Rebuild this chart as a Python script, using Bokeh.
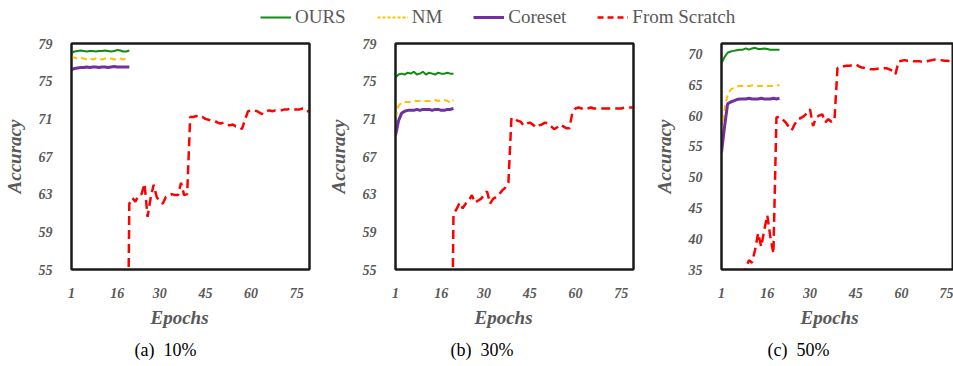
from bokeh.plotting import figure
from bokeh.models import Legend, LegendItem, Title, FixedTicker, Range1d, LinearAxis
from bokeh.layouts import column, row
from bokeh.embed import file_html
from bokeh.resources import INLINE

FONT = "Liberation Serif"
GRAY = "#595959"
C_OURS = "#138a13"
C_NM = "#FFC000"
C_CORE = "#7030A0"
C_SCR = "#FF0000"
C_FRAME = "#1a1a1a"

x_ticks = [1, 16, 30, 45, 60, 75]
y_ticks_ab = [55, 59, 63, 67, 71, 75, 79]
y_ticks_c = [35, 40, 45, 50, 55, 60, 65, 70]

epochs_short = list(range(1, 21))

# (a) 10%
a_ours = [78.0, 78.15, 78.2, 78.25, 78.2, 78.15, 78.2, 78.2, 78.15, 78.2, 78.2, 78.25, 78.2, 78.15, 78.2, 78.3, 78.25, 78.15, 78.15, 78.25]
a_nm = [77.6, 77.5, 77.4, 77.5, 77.4, 77.3, 77.4, 77.3, 77.4, 77.4, 77.3, 77.4, 77.4, 77.4, 77.3, 77.4, 77.4, 77.3, 77.4, 77.4]
a_core = [76.2, 76.35, 76.4, 76.45, 76.45, 76.5, 76.45, 76.5, 76.5, 76.45, 76.5, 76.5, 76.45, 76.5, 76.55, 76.5, 76.5, 76.5, 76.5, 76.5]
a_scr_ep = list(range(19, 80))
a_scr = [30.0,
         62.0, 62.6, 62.2, 62.9, 63.0, 64.1, 60.6, 62.6, 64.0, 62.7,
         62.2, 62.0, 62.7, 62.8, 63.0, 62.9, 62.9, 64.2, 62.9, 63.0,
         71.2, 71.2, 71.3, 71.1, 71.2, 71.0, 70.9, 70.8, 70.8, 70.6,
         70.5, 70.6, 70.4, 70.3, 70.4, 70.2, 70.2, 69.9, 70.9, 71.8,
         71.9, 71.9, 71.8, 71.6, 71.5, 71.8, 71.9, 71.8, 71.9, 71.9,
         71.9, 72.0, 72.0, 72.1, 72.0, 72.0, 72.0, 72.1, 72.1, 71.7]

# (b) 30%
b_ours = [75.4, 75.7, 75.8, 75.7, 75.9, 75.8, 76.0, 75.7, 75.8, 76.0, 75.7, 75.9, 75.8, 75.7, 75.9, 75.8, 75.8, 75.9, 75.8, 75.8]
b_nm = [71.1, 72.4, 72.7, 72.8, 72.8, 72.8, 72.9, 72.9, 72.9, 72.9, 72.9, 72.9, 72.9, 73.0, 72.9, 73.0, 73.0, 72.9, 72.7, 73.0]
b_core = [69.2, 70.8, 71.6, 71.8, 71.9, 71.9, 71.9, 72.0, 71.9, 72.0, 72.0, 72.0, 71.9, 72.0, 72.0, 71.9, 71.9, 72.0, 72.0, 72.1]
b_scr_ep = list(range(19, 80))
b_scr = [30.0,
         60.9, 61.4, 62.1, 61.5, 62.0, 62.3, 62.9, 62.1, 62.3, 62.5,
         62.9, 63.3, 62.0, 62.5, 62.7, 63.0, 63.4, 63.7, 64.2, 71.1,
         71.0, 70.8, 70.7, 70.3, 70.5, 70.6, 70.4, 70.1, 70.3, 70.4,
         70.6, 70.5, 70.2, 69.9, 70.1, 70.4, 70.2, 70.0, 70.0, 71.7,
         72.1, 72.2, 72.1, 72.0, 72.1, 72.2, 72.1, 72.1, 72.1, 72.1,
         72.1, 72.1, 72.1, 72.1, 72.1, 72.1, 72.2, 72.2, 72.2, 72.2]

# (c) 50%
c_ours = [68.5, 69.5, 70.2, 70.4, 70.5, 70.6, 70.7, 70.7, 70.9, 70.7, 70.9, 71.0, 70.8, 70.8, 70.9, 70.8, 70.7, 70.7, 70.7, 70.7]
c_nm = [57.5, 61.0, 63.4, 64.2, 64.5, 64.7, 64.8, 64.8, 64.8, 64.8, 64.9, 64.9, 64.8, 64.8, 64.9, 64.8, 64.8, 64.8, 64.9, 64.9]
c_core = [54.0, 58.2, 61.9, 62.2, 62.4, 62.6, 62.7, 62.7, 62.7, 62.8, 62.7, 62.7, 62.7, 62.8, 62.7, 62.7, 62.7, 62.8, 62.7, 62.8]
c_scr_ep = list(range(8, 78))
c_scr = [33.8, 35.3, 36.5, 36.1, 38.2, 40.9, 38.7, 41.4, 43.8, 40.3,
         37.6, 59.7, 59.8, 59.4, 58.9, 58.2, 57.6, 58.6, 59.4, 59.6,
         59.9, 60.4, 61.0, 58.3, 59.7, 60.0, 60.2, 58.9, 59.4, 59.0,
         59.2, 67.7, 68.0, 68.0, 68.1, 68.1, 68.2, 68.3, 68.0, 67.8,
         67.7, 67.6, 67.5, 67.5, 67.6, 67.6, 67.7, 67.7, 67.5, 67.3,
         66.7, 68.8, 68.9, 69.0, 68.9, 68.9, 68.8, 68.8, 68.8, 68.7,
         68.8, 68.9, 69.0, 69.1, 69.1, 69.0, 68.9, 68.9, 68.8, 68.7]

series_names = ["OURS", "NM", "Coreset", "From Scratch"]

LEG_H = 30
PANEL_H = 366 - LEG_H


def frame_axis():
    return LinearAxis(ticker=FixedTicker(ticks=[]), major_tick_line_color=None,
                      minor_tick_line_color=None, major_label_text_font_size="0px",
                      major_label_standoff=0, axis_line_color=C_FRAME, axis_line_width=2)


def make_panel(width, left, right, xmax, yr, yticks, ours, nm, core, scr_ep, scr,
               epochs_offset, caption, caption_offset, right_edge=True):
    p = figure(width=width, height=PANEL_H, x_range=Range1d(1, xmax), y_range=Range1d(*yr),
               output_backend="svg", toolbar_location=None,
               min_border_left=left, min_border_right=right,
               min_border_top=43 - LEG_H, min_border_bottom=97)
    p.xgrid.visible = False
    p.ygrid.visible = False
    p.outline_line_color = C_FRAME
    p.outline_line_width = 2
    p.outline_line_alpha = 1
    p.xaxis.ticker = FixedTicker(ticks=x_ticks)
    p.yaxis.ticker = FixedTicker(ticks=yticks)
    for ax in (p.xaxis[0], p.yaxis[0]):
        ax.major_tick_line_color = None
        ax.minor_tick_line_color = None
        ax.axis_line_color = C_FRAME
        ax.axis_line_width = 2
        ax.major_label_text_font = FONT
        ax.major_label_text_font_style = "bold italic"
        ax.major_label_text_color = GRAY
        ax.major_label_text_font_size = "14px"
    p.xaxis.major_label_standoff = 12
    p.yaxis.major_label_standoff = 13
    p.yaxis.axis_label = "Accuracy"
    p.yaxis.axis_label_text_font = FONT
    p.yaxis.axis_label_text_font_style = "bold italic"
    p.yaxis.axis_label_text_color = GRAY
    p.yaxis.axis_label_text_font_size = "19px"
    p.yaxis.axis_label_standoff = 11

    p.add_layout(frame_axis(), "above")
    if right_edge:
        p.add_layout(frame_axis(), "right")

    p.line(epochs_short, ours, line_color=C_OURS, line_width=2)
    p.line(epochs_short, nm, line_color=C_NM, line_width=2, line_dash="6 4")
    p.line(epochs_short, core, line_color=C_CORE, line_width=3)
    p.line(scr_ep, scr, line_color=C_SCR, line_width=2.5, line_dash="9 5")

    p.add_layout(Title(text="Epochs", align="left", offset=epochs_offset, standoff=8,
                       text_font=FONT, text_font_style="bold italic",
                       text_color=GRAY, text_font_size="19px"), "below")
    p.add_layout(Title(text=caption, align="left", offset=caption_offset, standoff=13,
                       text_font=FONT, text_font_style="normal",
                       text_color="black", text_font_size="18px"), "below")
    return p


p1 = make_panel(319, 61, 10, 79.2, (55, 79), y_ticks_ab, a_ours, a_nm, a_core,
                a_scr_ep, a_scr, 79, "(a)\u00a0 10%", 63)
p2 = make_panel(324, 76, 10, 79.0, (55, 79), y_ticks_ab, b_ours, b_nm, b_core,
                b_scr_ep, b_scr, 79, "(b)\u00a0 30%", 55)
p3 = make_panel(310, 78, 0, 77.0, (35, 71.7), y_ticks_c, c_ours, c_nm, c_core,
                c_scr_ep, c_scr, 79, "(c)\u00a0 50%", 46, right_edge=False)

# legend strip
lf = figure(width=953, height=LEG_H, x_range=Range1d(0, 1), y_range=Range1d(0, 1),
            output_backend="svg", toolbar_location=None, min_border=0,
            x_axis_location=None, y_axis_location=None, outline_line_color=None)
lf.xgrid.visible = False
lf.ygrid.visible = False
hx = [5, 6]
hy = [5, 6]
r_ours = lf.line(x=hx, y=hy, line_color=C_OURS, line_width=2)
r_nm = lf.line(x=hx, y=hy, line_color=C_NM, line_width=2, line_dash="3 2")
r_core = lf.line(x=hx, y=hy, line_color=C_CORE, line_width=3)
r_scr = lf.line(x=hx, y=hy, line_color=C_SCR, line_width=2.5, line_dash="6 4")
legend = Legend(items=[LegendItem(label=series_names[0], renderers=[r_ours]),
                       LegendItem(label=series_names[1], renderers=[r_nm]),
                       LegendItem(label=series_names[2], renderers=[r_core]),
                       LegendItem(label=series_names[3], renderers=[r_scr])],
                orientation="horizontal", location=(260, 2), glyph_width=31,
                glyph_height=20, label_standoff=4, spacing=31, padding=0, margin=0,
                border_line_color=None, background_fill_alpha=0,
                label_text_font=FONT, label_text_font_size="19px",
                label_text_color=GRAY)
lf.add_layout(legend, "center")

layout = column(lf, row(p1, p2, p3))
open("out.html", "w").write(file_html(layout, INLINE))
